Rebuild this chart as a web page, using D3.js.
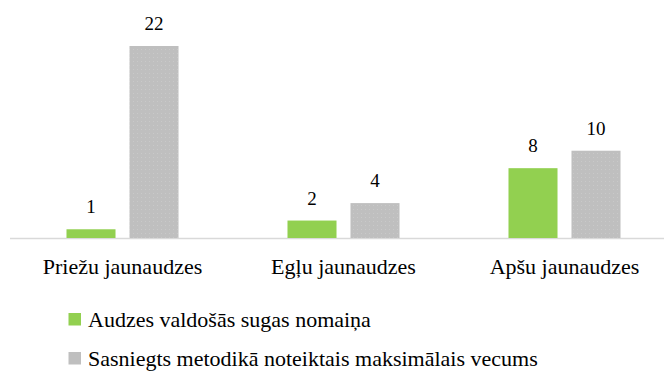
<!DOCTYPE html>
<html><head><meta charset="utf-8">
<script src="https://cdn.jsdelivr.net/npm/d3@7"></script>
<style>
  body { margin: 0; }
  #chart text { font-family: "Times New Roman", Tinos, "Liberation Serif", serif !important; fill: #000; }
</style>
</head>
<body>
<svg id="chart" width="664" height="372"></svg>
<script>
// Forest stand types and the two counted reasons
const categories = ["Priežu jaunaudzes", "Egļu jaunaudzes", "Apšu jaunaudzes"];
const seriesNames = ["Audzes valdošās sugas nomaiņa", "Sasniegts metodikā noteiktais maksimālais vecums"];
const speciesChange = [1, 2, 8];
const maxAgeReached = [22, 4, 10];
const seriesColors = ["#92d050", "#bfbfbf"];

const rows = categories.map((c, i) => ({
  category: c,
  values: [speciesChange[i], maxAgeReached[i]]
}));

const svg = d3.select("#chart");
const serifFamily = '"Times New Roman", Tinos, "Liberation Serif", serif';

// Dotted texture used on the grey bars
const defs = svg.append("defs");
const pat = defs.append("pattern")
  .attr("id", "dots").attr("patternUnits", "userSpaceOnUse")
  .attr("width", 4).attr("height", 4);
pat.append("rect").attr("width", 4).attr("height", 4).attr("fill", seriesColors[1]);
pat.append("rect").attr("x", 1).attr("y", 1).attr("width", 1).attr("height", 1).attr("fill", "#c9c9c9");

const baseline = 238;
const x0 = d3.scaleBand().domain(categories).range([12, 675]).padding(0);
const x1 = d3.scaleBand().domain([0, 1]).range([0, x0.bandwidth()])
  .paddingInner(0.222).paddingOuter(0.865);
const y = d3.scaleLinear().domain([0, 22]).range([baseline, 46]);

// Light base line
svg.append("line")
  .attr("x1", 10).attr("x2", 664)
  .attr("y1", baseline + 0.5).attr("y2", baseline + 0.5)
  .attr("stroke", "#d9d9d9").attr("stroke-width", 1.5);

// Category labels under each group
svg.selectAll("text.cat").data(categories).join("text")
  .attr("class", "cat")
  .attr("x", d => x0(d) + x0.bandwidth() / 2)
  .attr("y", 274)
  .attr("text-anchor", "middle")
  .attr("font-family", serifFamily)
  .style("font-size", "22px")
  .text(d => d);

const bars = rows.flatMap(r => r.values.map((v, k) => ({ category: r.category, v, k })));

svg.selectAll("rect.bar").data(bars).join("rect")
  .attr("class", "bar")
  .attr("x", d => x0(d.category) + x1(d.k))
  .attr("width", x1.bandwidth())
  .attr("y", d => y(d.v))
  .attr("height", d => y(0) - y(d.v))
  .attr("fill", d => d.k === 1 ? "url(#dots)" : seriesColors[0]);

svg.selectAll("text.val").data(bars).join("text")
  .attr("class", "val")
  .attr("x", d => x0(d.category) + x1(d.k) + x1.bandwidth() / 2)
  .attr("y", d => y(d.v) - 16)
  .attr("text-anchor", "middle")
  .attr("font-family", serifFamily)
  .style("font-size", "19px")
  .text(d => d.v);

// Legend
svg.selectAll("rect.key").data(seriesNames).join("rect")
  .attr("class", "key")
  .attr("x", 68.5).attr("y", (d, k) => 313 + k * 39)
  .attr("width", 12.5).attr("height", 12.5)
  .attr("fill", (d, k) => seriesColors[k]);
svg.selectAll("text.key").data(seriesNames).join("text")
  .attr("class", "key")
  .attr("x", 88).attr("y", (d, k) => 326.5 + k * 39)
  .attr("font-family", serifFamily)
  .style("font-size", "22px")
  .text(d => d);
</script></body></html>
